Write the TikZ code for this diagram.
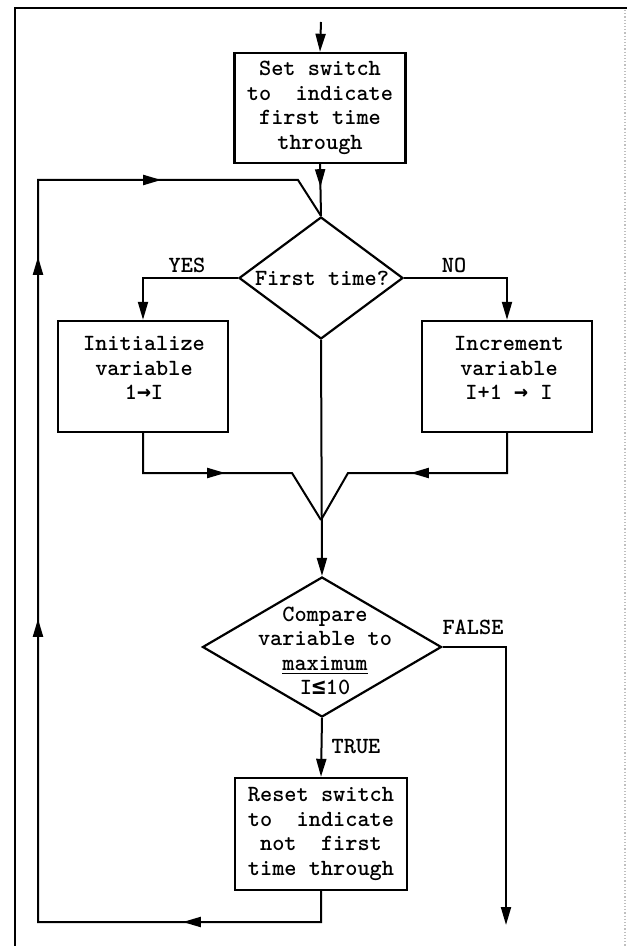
\documentclass[tikz,border=0pt]{standalone}
\usepackage{fontspec}
\newfontfamily\flowfont{lmmonolt10-bold.otf}
\newfontfamily\symf{DejaVu Sans Mono Bold}
\usetikzlibrary{shapes.geometric,arrows.meta,decorations.markings}
\begin{document}
\begin{tikzpicture}[x=0.5pt,y=-0.5pt,
  >={Triangle[length=9pt,width=5pt]},
  txt/.style={font=\fontsize{11.6pt}{12.25pt}\selectfont\flowfont, align=center, inner sep=0pt},
  procbox/.style={draw, line width=1.2pt, inner sep=0pt},
  decbox/.style={draw, diamond, line width=1.1pt, inner sep=0pt},
  flow/.style={line width=1pt},
  arr/.style={flow, ->},
  frameline/.style={line width=1.2pt}
]
\useasboundingbox (0,0) rectangle (627,946);

% frame
\draw[frameline] (15,946) -- (15,8) -- (627,8);
\draw[black!25, line width=0.6pt, densely dotted] (625,10) -- (625,946);

% nodes
\coordinate (start) at (321,22);
\node[procbox, txt, minimum width=85.5pt, minimum height=55pt] (setbox) at (320,108)
  {Set switch\\to~~indicate\\first time\\through};

\node[decbox, minimum width=82pt, minimum height=61pt] (dia1) at (321,278) {};
\node[txt] (dia1txt) at (322,278) {First time?};

\node[procbox, minimum width=85pt, minimum height=55.5pt] (leftbox) at (143,376.5) {};
\node[txt] (lefttxt) at (144,368) {Initialize\\variable\\1{\symf →}I};

\node[procbox, minimum width=85pt, minimum height=55.5pt] (rightbox) at (507,376.5) {};
\node[txt] (righttxt) at (509,368) {Increment\\variable\\I+1 {\symf →} I};

\coordinate (merge) at (321,520);
\coordinate (lj) at (292,473);
\coordinate (rj) at (348,473);

\node[decbox, minimum width=119.5pt, minimum height=70pt] (dia2) at (322,647) {};
\node[txt] (dia2txt) at (325,651) {Compare\\variable to\\\underline{maximum}\\I{\symf ≤}10};

\node[procbox, txt, minimum width=86pt, minimum height=56pt] (resetbox) at (321,834)
  {Reset switch\\to~~indicate\\not~~first\\time through};

\coordinate (falseend) at (506,925);
\coordinate (lb) at (38,922);
\coordinate (lt) at (38,180);
\coordinate (kink) at (298,180);

% labels
\node[txt] (yes) at (187,265) {YES};
\node[txt] (no) at (454,265) {NO};
\node[txt] (false) at (473,627) {FALSE};
\node[txt] (true) at (356,747) {TRUE};

% connectors
\draw[arr] (start) -- (setbox.north);
\draw[flow, postaction={decorate}, decoration={markings,
  mark=at position 11.5pt with {\arrow{>}}}] (setbox.south) -- (dia1.north);
\draw[arr] (dia1.west) -| (leftbox.north);
\draw[arr] (dia1.east) -| (rightbox.north);
\draw[flow, postaction={decorate}, decoration={markings,
  mark=at position 61pt with {\arrow{>}}}] (leftbox.south) |- (lj) -- (merge);
\draw[flow, postaction={decorate}, decoration={markings,
  mark=at position 68pt with {\arrow{>}}}] (rightbox.south) |- (rj) -- (merge);
\draw[arr] (dia1.south) -- (dia2.north);
\draw[arr] (dia2.east) -| (falseend);
\draw[arr] (dia2.south) -- (resetbox.north);
\draw[flow, postaction={decorate}, decoration={markings,
  mark=at position 84.5pt with {\arrow{>}},
  mark=at position 308.5pt with {\arrow{>}},
  mark=at position 489.5pt with {\arrow{>}},
  mark=at position 589.5pt with {\arrow{>}}}]
  (resetbox.south) |- (lb) -- (lt) -- (kink) -- (dia1.north);
\end{tikzpicture}
\end{document}
